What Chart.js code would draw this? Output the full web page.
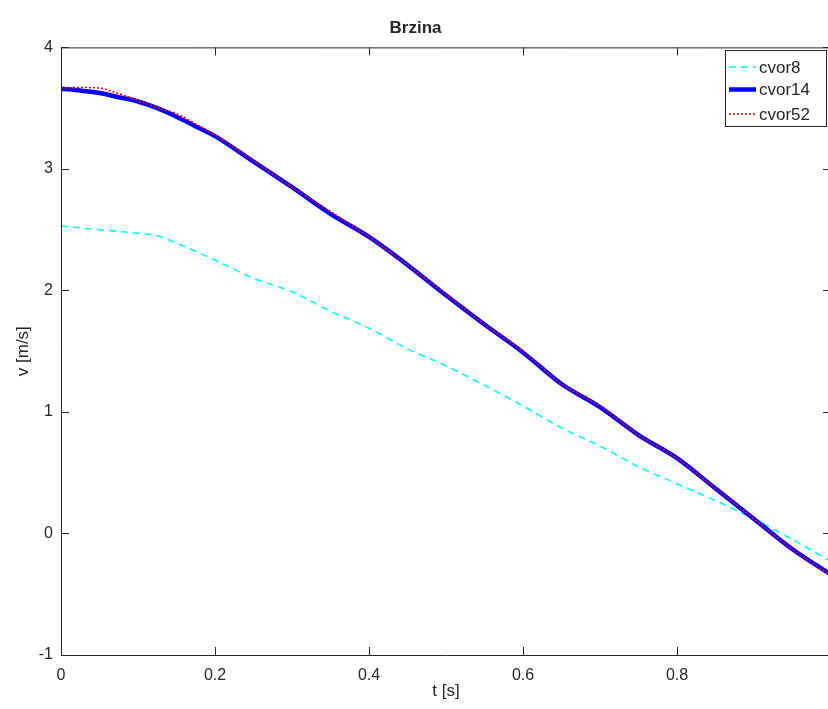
<!DOCTYPE html>
<html>
<head>
<meta charset="utf-8">
<title>Brzina</title>
<script src="https://cdn.jsdelivr.net/npm/chart.js@4"></script>
<style>
  html, body { margin: 0; padding: 0; background: #fff; overflow: hidden; }
  #wrap { width: 834px; height: 709px; }
</style>
</head>
<body>
<div id="wrap"><canvas id="chart" width="834" height="709"></canvas></div>
<script>
// ─── Data ────────────────────────────────────────────────────────────────────
const tCvor8 = [0, 0.05, 0.1, 0.125, 0.15, 0.2, 0.25, 0.3, 0.35, 0.4, 0.45, 0.5,
                0.55, 0.6, 0.65, 0.7, 0.75, 0.8, 0.85, 0.9, 0.95, 1.0];
const vCvor8 = [2.53, 2.50, 2.47, 2.45, 2.39, 2.25, 2.10, 1.99, 1.83, 1.69, 1.52, 1.38,
                1.22, 1.05, 0.87, 0.72, 0.55, 0.41, 0.27, 0.12, -0.05, -0.23];

const tFine = [0, 0.025, 0.05, 0.075, 0.1, 0.125, 0.15, 0.175, 0.2, 0.25, 0.3, 0.35,
               0.4, 0.45, 0.5, 0.55, 0.6, 0.65, 0.7, 0.75, 0.8, 0.85, 0.9, 0.95, 1.0];
const vCvor14 = [3.66, 3.645, 3.625, 3.59, 3.555, 3.50, 3.43, 3.35, 3.27, 3.06, 2.85, 2.63,
                 2.44, 2.21, 1.96, 1.72, 1.49, 1.23, 1.04, 0.81, 0.62, 0.37, 0.12, -0.13, -0.34];
const vCvor52 = [3.665, 3.67, 3.665, 3.62, 3.565, 3.505, 3.455, 3.37, 3.28, 3.07, 2.85, 2.65,
                 2.44, 2.21, 1.97, 1.72, 1.50, 1.23, 1.05, 0.81, 0.62, 0.37, 0.12, -0.13, -0.35];

const xTicks = [0, 0.2, 0.4, 0.6, 0.8, 1];
const yTicks = [-1, 0, 1, 2, 3, 4];

const FONT = 'Liberation Sans, Arial, sans-serif';
const AXIS = '#262626';

const pts = (ts, vs) => ts.map((t, i) => ({ x: t, y: vs[i] }));

// ─── Inside ticks, box and legend (Octave style) ─────────────────────────────
const axesBox = {
  id: 'axesBox',
  afterDatasetsDraw(chart) {
    const { ctx, chartArea: a, scales: { x, y } } = chart;
    const len = 8;
    ctx.save();
    ctx.strokeStyle = AXIS;
    ctx.lineWidth = 1;
    ctx.beginPath();
    ctx.rect(a.left + 0.5, a.top + 0.5, a.right - a.left, a.bottom - a.top);
    xTicks.forEach(v => {
      const px = Math.round(x.getPixelForValue(v)) + 0.5;
      ctx.moveTo(px, a.bottom); ctx.lineTo(px, a.bottom - len);
      ctx.moveTo(px, a.top); ctx.lineTo(px, a.top + len);
    });
    yTicks.forEach(v => {
      const py = Math.round(y.getPixelForValue(v)) + 0.5;
      ctx.moveTo(a.left, py); ctx.lineTo(a.left + len, py);
      ctx.moveTo(a.right, py); ctx.lineTo(a.right - len, py);
    });
    ctx.stroke();

    // legend box, top right inside the axes
    const bx = 725.5, by = 50.5, bw = 101, bh = 76;
    ctx.fillStyle = '#fff';
    ctx.fillRect(bx, by, bw, bh);
    ctx.strokeRect(bx, by, bw, bh);
    const rows = [67, 89.5, 114];
    chart.data.datasets.forEach((ds, i) => {
      ctx.beginPath();
      ctx.strokeStyle = ds.borderColor;
      ctx.lineWidth = ds.borderWidth;
      ctx.setLineDash(ds.borderDash || []);
      ctx.moveTo(729, rows[i]); ctx.lineTo(756, rows[i]);
      ctx.stroke();
      ctx.setLineDash([]);
      ctx.fillStyle = AXIS;
      ctx.font = '17px ' + FONT;
      ctx.textBaseline = 'middle';
      ctx.fillText(ds.label, 759, rows[i] + 1);
    });
    ctx.restore();
  }
};

new Chart(document.getElementById('chart'), {
  type: 'line',
  data: {
    datasets: [
      { label: 'cvor8', data: pts(tCvor8, vCvor8), borderColor: '#00ffff',
        borderWidth: 1.6, borderDash: [7, 5], order: 3 },
      { label: 'cvor14', data: pts(tFine, vCvor14), borderColor: '#0000ff',
        borderWidth: 4.5, order: 2 },
      { label: 'cvor52', data: pts(tFine, vCvor52), borderColor: '#ff0000',
        borderWidth: 1.6, borderDash: [2, 2], order: 1 },
    ]
  },
  options: {
    responsive: false,
    animation: false,
    layout: { padding: { left: 0, right: 3, top: 0, bottom: 0 } },
    elements: { point: { radius: 0 }, line: { cubicInterpolationMode: 'monotone', fill: false } },
    plugins: {
      legend: { display: false },
      tooltip: { enabled: false },
      title: {
        display: true, text: 'Brzina', color: AXIS,
        font: { family: FONT, size: 17, weight: 'bold' },
        padding: { top: 18, bottom: 9 }
      }
    },
    scales: {
      x: {
        type: 'linear', min: 0, max: 1,
        grid: { display: false, drawTicks: false },
        border: { display: false },
        afterFit(s) { s.height = 54; s.paddingLeft = 0; s.paddingRight = 0; },
        afterBuildTicks(s) { s.ticks = xTicks.map(v => ({ value: v })); },
        ticks: {
          color: AXIS, padding: 11, maxRotation: 0, font: { family: FONT, size: 16 },
          // the "1" sits at the cut-off right edge of the original figure
          callback: v => (v === 1 ? '' : v)
        },
        title: { display: true, text: 't [s]', color: AXIS,
                 font: { family: FONT, size: 17 }, padding: { top: 0, bottom: 7 } }
      },
      y: {
        min: -1, max: 4,
        grid: { display: false, drawTicks: false },
        border: { display: false },
        afterFit(s) { s.width = 61; },
        afterBuildTicks(s) { s.ticks = yTicks.map(v => ({ value: v })); },
        ticks: { color: AXIS, padding: 8, font: { family: FONT, size: 16 } },
        title: { display: true, text: 'v [m/s]', color: AXIS,
                 font: { family: FONT, size: 17 }, padding: { top: 13, bottom: 0 } }
      }
    }
  },
  plugins: [axesBox]
});
</script>
</body>
</html>
